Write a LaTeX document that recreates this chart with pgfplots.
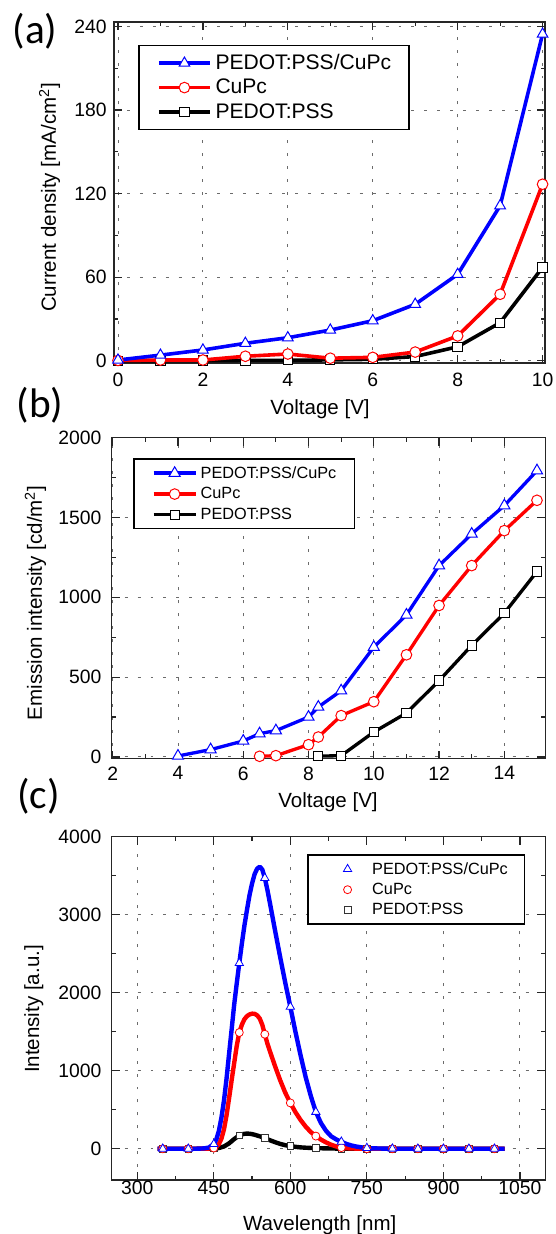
\documentclass[border=0pt]{standalone}
\usepackage{fontspec}
\setmainfont{Liberation Sans}
\newfontfamily\panelfont{Carlito}
\usepackage{pgfplots}
\pgfplotsset{compat=1.18}

\definecolor{oblue}{RGB}{0,0,255}
\definecolor{ored}{RGB}{255,0,0}

\pgfplotsset{
  panel/.style={
    scale only axis,
    clip=false,
    axis line style={black!85, line width=1.1pt},
    every tick/.style={black!85, line width=0.9pt},
    major tick length=6pt,
    minor tick length=3.3pt,
    tick align=inside,
    tick pos=both,
    grid=major,
    major grid style={black!58, line width=0.7pt, dash pattern=on 2.2pt off 7.5pt},
    tick label style={font=\fontsize{14.5}{17}\selectfont},
    label style={font=\fontsize{15.4}{18}\selectfont},
    /pgf/number format/assume math mode=true,
    /pgf/number format/1000 sep={},
    legend cell align=left,
    reverse legend,
  },
  % marks-only legend entry for the spectra
  cmark/.style={only marks,
    legend image code/.code={\path (0pt,0pt) (32pt,0pt); \draw[##1] plot coordinates {(16.8pt,0pt)};}},
}

\begin{document}
\begin{tikzpicture}
\useasboundingbox (0pt,0pt) rectangle (417pt,-925.5pt);

% ---------- (a) current density ----------
\begin{axis}[panel,
  at={(85.5pt,-16.5pt)}, anchor=north west,
  width=323.25pt, height=255.75pt,
  xmin=-0.094, xmax=10.057, ymin=-1.65, ymax=243.2,
  xtick={0,2,...,10}, ytick={0,60,...,240},
  minor x tick num=1, minor y tick num=1,
  xticklabel style={yshift=-4.2pt},
  yticklabel style={xshift=-2pt},
  xlabel={Voltage [V]},
  ylabel={Current density [mA/cm\textsuperscript{2}]},
  xlabel style={at={(axis description cs:0.478,-0.1364)}, anchor=center},
  ylabel style={at={(axis description cs:-0.1494,0.4853)}, anchor=center},
  legend style={at={(axis description cs:0.0564,0.934)}, anchor=north west,
    draw=black, line width=1pt, fill=white,
    font=\fontsize{15.8}{18}\selectfont,
    inner xsep=13.5pt, inner ysep=7pt, row sep=5.6pt, column sep=2.7pt,
    nodes={inner sep=0pt}},
  legend image code/.code={\draw[mark repeat=2,mark phase=2,#1] plot coordinates {(0pt,0pt) (19.25pt,0pt) (38.5pt,0pt)};},
]
\addplot[black, line width=2.7pt, mark=square*, mark size=3.5pt,
  mark options={draw=black, fill=white, line width=0.75pt}] coordinates {
  (0,0) (1,0) (2,0.1) (3,0.2) (4,0.3) (5,0.6) (6,1.0)
  (7,3.0) (8,10.0) (9,27.3) (10,67.0)
};
\addlegendentry{PEDOT:PSS}
\addplot[ored, line width=2.7pt, mark=*, mark size=4pt,
  mark options={draw=ored, fill=white, line width=0.75pt}] coordinates {
  (0,0.2) (1,0.5) (2,0.5) (3,3.2) (4,4.8) (5,1.8) (6,2.4)
  (7,6.2) (8,17.8) (9,47.7) (10,126.7)
};
\addlegendentry{CuPc}
\addplot[oblue, line width=2.7pt, mark=triangle*, mark size=4.6pt,
  mark options={draw=oblue, fill=white, line width=0.75pt}] coordinates {
  (0,0.5) (1,4.0) (2,7.7) (3,12.5) (4,16.5) (5,22.0) (6,28.7)
  (7,40.5) (8,62.0) (9,111.3) (10,234.5)
};
\addlegendentry{PEDOT:PSS/CuPc}
\end{axis}

% ---------- (b) emission intensity ----------
\begin{axis}[panel,
  at={(83.8pt,-328.3pt)}, anchor=north west,
  width=325.3pt, height=240.6pt,
  xmin=1.97, xmax=15.26, ymin=-10, ymax=2000,
  xtick={2,4,...,14}, ytick={0,500,...,2000},
  minor x tick num=1, minor y tick num=1,
  xticklabel style={yshift=-2.5pt},
  yticklabel style={xshift=-4.2pt},
  xlabel={Voltage [V]},
  ylabel={Emission intensity [cd/m\textsuperscript{2}]},
  xlabel style={at={(axis description cs:0.4987,-0.137)}, anchor=center},
  ylabel style={at={(axis description cs:-0.1757,0.4847)}, anchor=center},
  legend style={at={(axis description cs:0.0498,0.936)}, anchor=north west,
    draw=black, line width=1pt, fill=white,
    font=\fontsize{12.2}{14}\selectfont,
    inner xsep=13.5pt, inner ysep=5.5pt, row sep=5.5pt, column sep=2.5pt,
    nodes={inner sep=0pt}},
  legend image code/.code={\draw[mark repeat=2,mark phase=2,#1] plot coordinates {(0pt,0pt) (15.75pt,0pt) (31.5pt,0pt)};},
]
\addplot[black, line width=2.5pt, mark=square*, mark size=3.5pt,
  mark options={draw=black, fill=white, line width=0.75pt}] coordinates {
  (8.3,5) (9,8) (10,156) (11,275) (12,478) (13,699) (14,901) (15,1162)
};
\addlegendentry{PEDOT:PSS}
\addplot[ored, line width=2.5pt, mark=*, mark size=4pt,
  mark options={draw=ored, fill=white, line width=0.75pt}] coordinates {
  (6.5,4) (7,8) (8,77) (8.3,125) (9,259) (10,346) (11,640) (12,949)
  (13,1199) (14,1418) (15,1608)
};
\addlegendentry{CuPc}
\addplot[oblue, line width=2.5pt, mark=triangle*, mark size=4.8pt,
  mark options={draw=oblue, fill=white, line width=0.75pt}] coordinates {
  (4,6) (5,46) (6,100) (6.5,146) (7,165) (8,250) (8.3,313) (9,415)
  (10,688) (11,890) (12,1199) (13,1397) (14,1575) (15,1794)
};
\addlegendentry{PEDOT:PSS/CuPc}
\end{axis}

% ---------- (c) EL spectra ----------
\begin{axis}[panel,
  at={(83.8pt,-627.5pt)}, anchor=north west,
  width=325.3pt, height=257.5pt,
  xmin=250, xmax=1100, ymin=-400, ymax=4000,
  xtick={300,450,...,1050}, ytick={0,1000,...,4000},
  minor x tick num=1, minor y tick num=1,
  xticklabel style={yshift=2.5pt},
  yticklabel style={xshift=-4.2pt},
  xlabel={Wavelength [nm]},
  ylabel={Intensity [a.u.]},
  xlabel style={at={(axis description cs:0.4796,-0.132)}, anchor=center},
  ylabel style={at={(axis description cs:-0.1796,0.498)}, anchor=center},
  legend style={at={(axis description cs:0.4506,0.9487)}, anchor=north west,
    draw=black, line width=1pt, fill=white,
    font=\fontsize{12.2}{14}\selectfont,
    inner xsep=12.5pt, inner ysep=5.5pt, row sep=5.2pt, column sep=2.8pt,
    nodes={inner sep=0pt}},
]
% continuous spectra
\addplot[black, line width=3.3pt, line join=round, forget plot] coordinates {
  (340,0) (400,0) (440,1) (450,3) (460,10) (470,30) (480,70) (490,125)
  (500,172) (505,185) (510,192) (515,195) (520,193) (525,188) (530,180)
  (540,160) (550,137) (560,110) (570,85) (580,63) (590,46) (600,34)
  (610,25) (620,18) (630,14) (640,11) (650,9) (670,5) (700,2) (750,0)
  (1020,0)
};
\addplot[ored, line width=3.3pt, line join=round, forget plot] coordinates {
  (340,0) (400,0) (440,3) (450,10) (455,25) (460,60) (465,130) (470,250)
  (475,430) (480,650) (485,880) (490,1100) (495,1320) (500,1490)
  (505,1590) (510,1660) (515,1700) (520,1722) (525,1732) (530,1730)
  (535,1710) (540,1670) (545,1590) (550,1468) (555,1350) (560,1250)
  (570,1060) (580,880) (590,720) (600,588) (610,470) (620,370) (630,285)
  (640,215) (650,163) (660,118) (670,82) (680,52) (690,30) (700,15)
  (710,8) (720,4) (740,1) (760,0) (1020,0)
};
\addplot[oblue, line width=3.3pt, line join=round, forget plot] coordinates {
  (340,0) (410,0) (420,2) (430,5) (440,15) (450,60) (455,120) (460,230)
  (465,400) (470,620) (475,900) (480,1220) (485,1530) (490,1850)
  (495,2120) (500,2380) (505,2630) (510,2860) (515,3060) (520,3250)
  (525,3400) (530,3520) (535,3590) (540,3615) (545,3580) (550,3470)
  (555,3320) (560,3150) (570,2800) (580,2460) (590,2130) (600,1820)
  (610,1500) (620,1200) (630,920) (640,680) (650,472) (660,330) (670,230)
  (680,160) (690,120) (700,90) (710,62) (720,42) (730,28) (740,18)
  (750,10) (760,6) (780,3) (800,1) (850,0) (1020,0)
};
% sparse markers
\addplot[cmark, mark=square*, mark size=2.5pt,
  mark options={draw=black!80, fill=white, line width=0.6pt}] coordinates {
  (350,0) (400,0) (450,3) (500,172) (550,137) (600,34) (650,9) (700,2)
  (750,0) (800,0) (850,0) (900,0) (950,0) (1000,0)
};
\addlegendentry{PEDOT:PSS}
\addplot[cmark, mark=*, mark size=3pt,
  mark options={draw=ored, fill=white, line width=0.6pt}] coordinates {
  (350,0) (400,0) (450,10) (500,1490) (550,1468) (600,588) (650,163)
  (700,15) (750,0) (800,0) (850,0) (900,0) (950,0) (1000,0)
};
\addlegendentry{CuPc}
\addplot[cmark, mark=triangle*, mark size=3.6pt,
  mark options={draw=oblue, fill=white, line width=0.6pt}] coordinates {
  (350,0) (400,0) (450,60) (500,2380) (550,3470) (600,1820) (650,472)
  (700,90) (750,10) (800,1) (850,0) (900,0) (950,0) (1000,0)
};
\addlegendentry{PEDOT:PSS/CuPc}
\end{axis}

% panel letters
\node[font=\panelfont\fontsize{31}{34}\selectfont] at (26.25pt,-23.25pt) {(a)};
\node[font=\panelfont\fontsize{31}{34}\selectfont] at (30pt,-303.75pt) {(b)};
\node[font=\panelfont\fontsize{31}{34}\selectfont] at (28.9pt,-597pt) {(c)};
\end{tikzpicture}
\end{document}
